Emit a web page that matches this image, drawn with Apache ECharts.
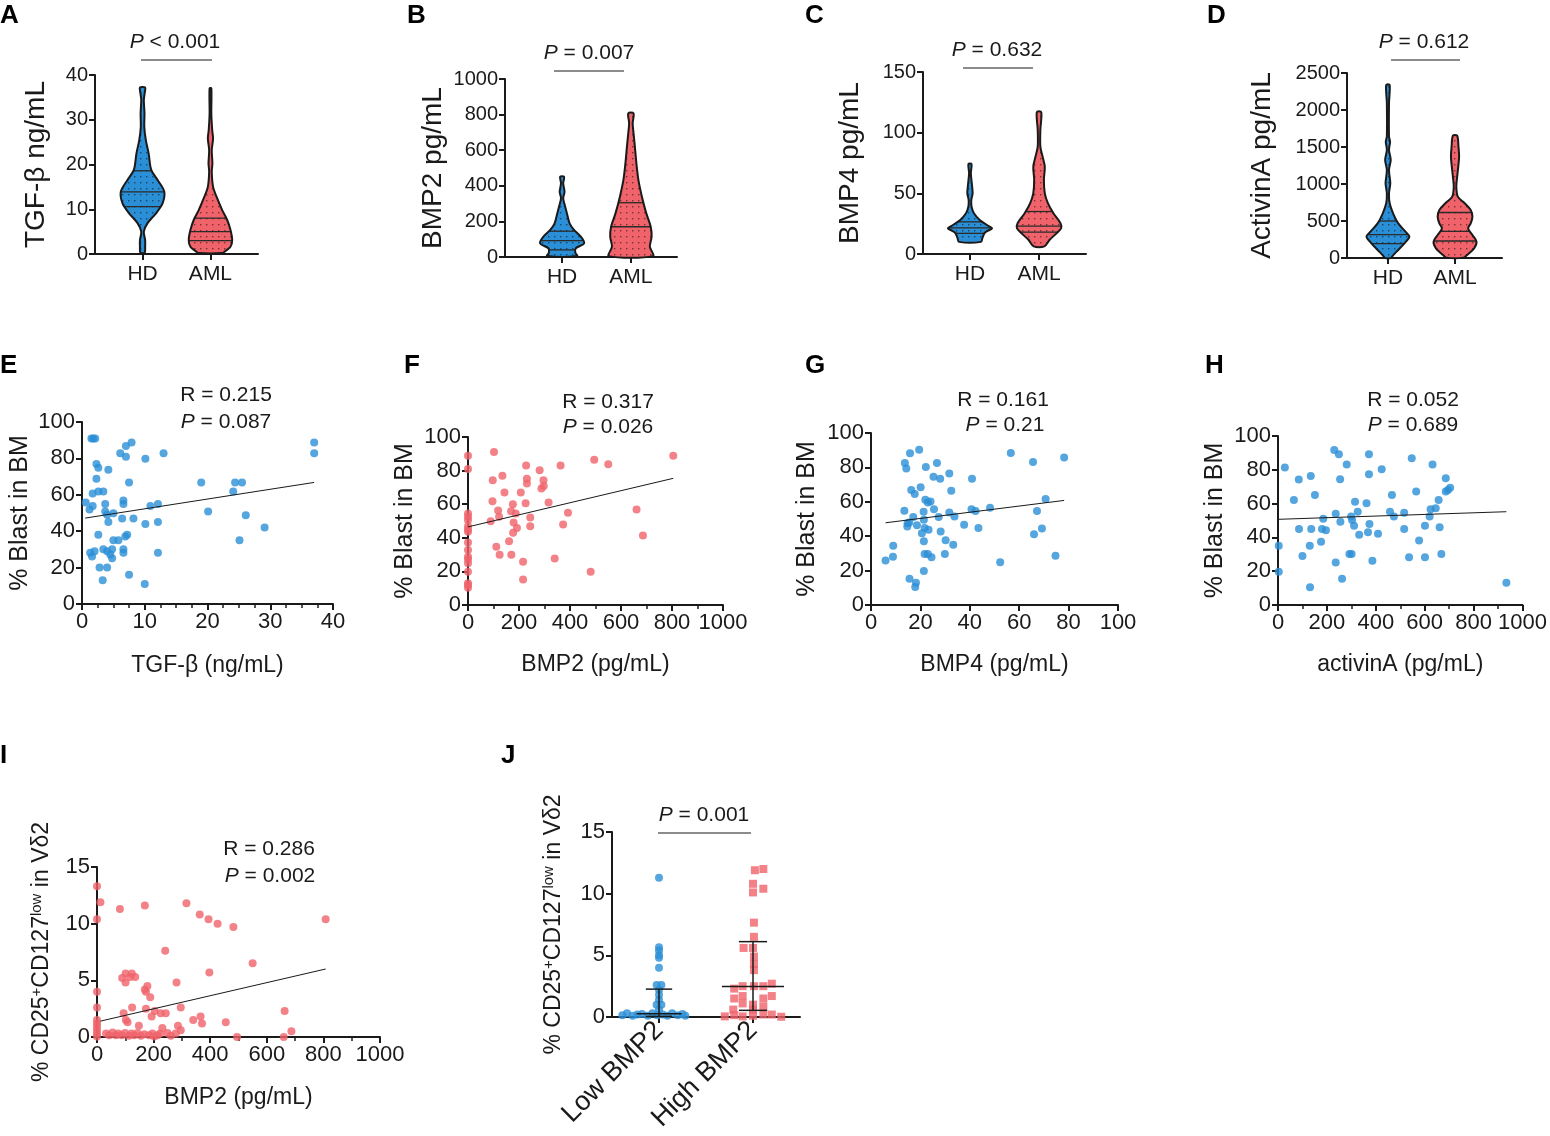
<!DOCTYPE html>
<html lang="en">
<head>
<meta charset="UTF-8">
<title>TGF-β family cytokines in AML</title>
<script src="https://cdn.jsdelivr.net/npm/echarts@6/dist/echarts.min.js"></script>
<style>body { margin: 0; background: #fff; }</style>
</head>
<body>
<div id="main" style="width:1550px;height:1136px;"></div>
<script>
// ---- data ----
var violinCats = ['HD', 'AML'];
var jCats = ['Low BMP2', 'High BMP2'];

// violin outlines, top to bottom: [value, relative half width]
var tgfHD = [[37.2,0.12],[36.0,0.1],[34.4,0.06],[31.4,0.09],[28.4,0.08],[25.5,0.15],[22.5,0.28],[18.8,0.4],[16.5,0.7],[13.9,1.0],[11.3,0.92],[9.1,0.62],[6.9,0.23],[5.0,0.06],[3.1,0.12],[1.6,0.12],[0.3,0.1]];
var tgfAML = [[37,0.04],[31.4,0.04],[27.7,0.08],[25.8,0.12],[23.2,0.06],[20.2,0.09],[18.4,0.06],[15,0.12],[12.8,0.28],[9.8,0.54],[7.6,0.77],[5.4,0.92],[3.1,1.0],[1.6,0.92],[0.7,0.7],[0.2,0.55]];
var bmp2HD = [[451,0.09],[414,0.05],[367,0.11],[330,0.05],[292,0.12],[245,0.22],[189,0.34],[152,0.54],[114,0.85],[77,1.0],[49,0.62],[25,0.6],[5,0.68]];
var bmp2AML = [[807,0.12],[751,0.08],[695,0.12],[620,0.18],[526,0.25],[433,0.34],[339,0.5],[245,0.7],[170,0.9],[114,0.94],[58,0.86],[5,1.0]];
var bmp4HD = [[74.2,0.07],[66.5,0.04],[56.9,0.09],[50,0.12],[44.5,0.06],[39.1,0.07],[33.6,0.18],[28.1,0.44],[23,0.85],[21.3,1.0],[19,0.8],[17.2,0.66],[13,0.56],[10,0.5]];
var bmp4AML = [[116.9,0.1],[102.3,0.06],[88.5,0.06],[80.3,0.16],[72.1,0.26],[61.1,0.22],[50.1,0.26],[41.9,0.4],[33.6,0.65],[25.4,0.97],[21.3,1.0],[17.2,0.8],[11.7,0.48],[6.3,0.24]];
var actHD = [[2338,0.08],[2090,0.05],[1640,0.05],[1572,0.1],[1459,0.05],[1324,0.13],[1189,0.05],[1009,0.11],[874,0.05],[739,0.08],[604,0.24],[468,0.48],[333,0.89],[288,1.0],[198,0.77],[86,0.4],[18,0.19],[0,0.15]];
var actAML = [[1653,0.1],[1505,0.16],[1369,0.19],[1234,0.15],[1099,0.1],[964,0.06],[829,0.13],[739,0.45],[649,0.73],[559,0.81],[468,0.73],[400,0.61],[311,0.81],[221,1.0],[131,0.89],[41,0.56],[5,0.4]];

// quartile / median lines inside the violins
var tgfHDq = [10.6, 13.9, 18.6], tgfAMLq = [3.0, 5.0, 8.0];
var bmp2HDq = [40, 92, 145], bmp2AMLq = [170, 305];
var bmp4HDq = [17, 21.5, 26.5], bmp4AMLq = [18, 23, 35];
var actHDq = [195, 315, 500], actAMLq = [230, 360, 615];

// scatter panels: [x, y]
var tgfBlast = [[1.5,91],[1.8,91],[2.1,91],[37,88.8],[37,82.8],[7.9,88.8],[7.0,86.8],[6.1,82.8],[13.0,82.8],[7.0,80.9],[10.1,79.8],[2.3,76.9],[2.6,74.9],[4.2,73.8],[2.3,68.8],[7.5,66.8],[19.0,66.8],[24.4,66.8],[25.5,66.8],[24.1,61.8],[2.6,61.8],[3.4,61.8],[1.7,60.7],[0.6,55.8],[6.6,56.9],[6.6,54.9],[3.7,54.9],[1.7,53.9],[1.2,51.9],[3.7,50.8],[12.1,54.9],[10.9,53.9],[20.1,50.8],[26.1,48.8],[5.0,49.9],[4.0,49.0],[4.2,45.0],[6.4,47.0],[8.2,47.0],[10.1,44.0],[12.1,45.0],[29.1,42.0],[2.6,38.0],[7.2,38.0],[6.9,37.1],[5.0,35.0],[5.8,35.0],[25.1,35.0],[6.6,30.1],[3.4,30.1],[4.0,29.0],[4.8,30.1],[1.3,28.1],[2.0,29.0],[1.6,26.1],[4.5,27.2],[4.8,25.1],[6.6,28.1],[12.1,28.1],[2.8,20.0],[4.0,20.0],[7.5,16.1],[3.3,13.0],[10.0,11.0]];
var bmp2Blast = [[0,88.9],[0,81.0],[0,54.5],[0,52.5],[0,50.5],[0,46.9],[0,45.0],[0,43.6],[0,37.2],[0,32.7],[0,28.7],[0,27.3],[0,24.8],[0,19.8],[0,12.9],[0,10.3],[0,11.9],[102,91.1],[97,74.3],[135,77.0],[96,61.8],[118,56.2],[122,52.5],[89,49.9],[143,66.9],[207,66.9],[228,83.0],[231,75.2],[231,72.3],[226,60.6],[176,60.0],[169,55.8],[187,54.5],[179,49.1],[192,45.9],[177,43.0],[161,38.0],[111,34.7],[124,29.9],[170,29.9],[216,25.7],[216,15.2],[244,52.1],[244,46.9],[281,80.2],[296,74.3],[297,70.9],[288,69.3],[316,61.0],[363,83.0],[392,54.9],[373,47.9],[340,27.7],[495,86.5],[550,83.8],[481,19.8],[661,56.8],[686,41.4],[805,88.9]];
var bmp4Blast = [[5.9,25.8],[8.9,28.0],[9.0,34.4],[13.5,54.8],[13.7,82.5],[14.3,79.4],[15.8,88.2],[19.5,90.3],[22.2,80.2],[26.7,82.5],[16.3,66.8],[17.7,64.5],[20.1,68.5],[25.3,74.6],[28.0,73.4],[31.7,76.5],[32.5,66.4],[40.9,73.4],[56.6,88.3],[65.6,83.1],[78.2,85.8],[24.1,60.2],[23.0,59.6],[22.0,61.2],[25.5,55.7],[27.4,51.1],[21.3,54.2],[17.1,51.1],[14.8,47.6],[14.7,45.6],[15.5,48.0],[18.6,46.4],[21.4,49.5],[21.7,44.7],[23.3,43.7],[20.6,41.7],[28.2,42.7],[31.7,53.8],[33.8,51.5],[37.7,46.6],[40.7,55.7],[42.3,54.6],[48.2,56.5],[43.5,44.7],[30.2,37.7],[33.3,35.0],[21.4,37.1],[21.7,29.7],[23.0,29.7],[24.5,27.8],[29.9,29.7],[21.4,19.8],[15.6,15.3],[18.2,13.0],[17.9,10.5],[52.3,24.9],[66.0,41.2],[67.2,54.6],[69.2,44.5],[70.7,61.6],[74.7,28.7]];
var actBlast = [[3,35.1],[3,19.7],[28,81.3],[65,62.1],[85,74.2],[86,45.0],[100,29.0],[134,76.3],[130,35.1],[136,45.0],[131,10.5],[151,65.1],[176,37.5],[180,45.0],[185,51.1],[196,44.2],[230,91.7],[249,89.2],[281,83.2],[236,54.0],[255,49.3],[254,74.4],[236,25.2],[262,15.6],[299,52.3],[303,50.3],[311,46.9],[315,61.1],[326,55.2],[332,41.6],[292,30.2],[301,30.2],[362,60.2],[372,89.2],[372,77.3],[374,47.9],[368,43.0],[386,26.2],[424,80.3],[409,42.2],[466,65.1],[458,55.2],[474,52.3],[516,54.6],[516,45.0],[536,28.2],[547,86.8],[565,67.1],[577,38.1],[601,46.9],[601,28.2],[620,52.3],[624,56.6],[632,83.2],[645,57.2],[657,62.1],[661,46.0],[668,30.2],[686,75.0],[686,67.1],[695,68.0],[704,69.4],[934,13.2]];
var bmp2Treg = [[0,13.3],[0,10.4],[0,4.0],[0,2.6],[0,1.5],[0,1.2],[0,0.9],[0,0.6],[0,0.3],[0,0.05],[12,11.9],[81,11.3],[169,11.6],[316,11.8],[363,10.8],[394,10.4],[426,10.0],[482,9.7],[808,10.4],[241,7.6],[550,6.5],[397,5.7],[281,4.8],[89,5.2],[101,5.6],[117,5.3],[123,5.6],[135,5.3],[101,4.8],[169,4.2],[178,4.5],[188,3.5],[173,4.0],[663,2.3],[296,2.6],[124,2.6],[94,2.1],[173,2.5],[204,2.3],[225,2.1],[243,2.1],[193,1.8],[102,1.5],[108,1.3],[340,1.5],[366,1.8],[371,1.2],[455,1.3],[148,1.0],[286,1.0],[231,0.8],[296,0.6],[687,0.5],[495,0.0],[660,0.0],[32,0.3],[43,0.15],[55,0.4],[67,0.15],[75,0.3],[87,0.15],[99,0.35],[113,0.1],[122,0.3],[131,0.15],[143,0.35],[155,0.1],[167,0.25],[184,0.15],[196,0.3],[214,0.15],[223,0.3],[249,0.35],[261,0.1],[278,0.3],[202,0.05]];

// linear fit end points
var fitE = [[0.5,47.2],[37,66.8]];
var fitF = [[0,46.5],[805,75.4]];
var fitG = [[5.9,47.8],[78.2,60.8]];
var fitH = [[0,50.7],[934,55.2]];
var fitI = [[12,1.4],[808,6.0]];

// panel J: [offset from group centre, value]
var lowBmp2 = [[0,11.3],[0,5.66],[0,5.4],[0,5.0],[0,4.8],[0,4.0],[-0.025,2.6],[0.025,2.6],[0,2.2],[0,1.8],[0,1.4],[-0.025,1.0],[0.025,1.0],[0,0.6],[-0.39,0.15],[-0.34,0.3],[-0.28,0.1],[-0.23,0.2],[-0.18,0.25],[-0.12,0.1],[-0.07,0.3],[-0.02,0.15],[0.04,0.2],[0.09,0.1],[0.14,0.3],[0.2,0.15],[0.25,0.25],[0.28,0.1]];
var highBmp2 = [[0.02,11.9],[0.11,12.0],[0,10.8],[0.11,10.4],[0,10.1],[0.01,7.65],[0.01,6.5],[-0.1,5.6],[0,5.6],[0.01,4.9],[0.01,4.3],[0.01,3.8],[-0.11,2.5],[0.01,2.5],[0.11,2.5],[0.2,2.7],[-0.2,2.3],[-0.2,1.5],[-0.11,1.7],[0.11,1.5],[0.2,1.7],[-0.11,1.1],[0,1.0],[-0.21,0.6],[0,0.6],[0.11,0.85],[-0.3,0.05],[-0.2,0.15],[-0.11,0.05],[0,0.1],[0.11,0.2],[0.2,0.2],[0.3,0.02]];
// [lower, median, upper]
var lowStats = [0.05, 0.27, 2.26];
var highStats = [0.54, 2.48, 6.11];

// ---- styling ----
var FONT = "'Liberation Sans', Arial, sans-serif";
var INK = '#1a1a1a';
var BLUE = '#2a8fd6';
var RED = '#f0636a';
var HALF = 0.32; // widest violin half width, in x units

function dotPattern(color) {
    var c = document.createElement('canvas');
    c.width = 6; c.height = 6;
    var g = c.getContext('2d');
    g.fillStyle = color;
    g.fillRect(0, 0, 6, 6);
    g.fillStyle = 'rgba(0,0,0,0.5)';
    g.fillRect(2, 2, 1.4, 1.4);
    return {image: c, repeat: 'repeat'};
}
var bluePat = dotPattern(BLUE);
var redPat = dotPattern(RED);

function widthAt(prof, v) {
    for (var k = 0; k < prof.length - 1; k++) {
        var a = prof[k], b = prof[k + 1];
        if (v <= a[0] && v >= b[0]) {
            var t = (a[0] - v) / (a[0] - b[0]);
            return a[1] + t * (b[1] - a[1]);
        }
    }
    return prof[prof.length - 1][1];
}

function violinRender(profiles, quarts) {
    var fills = [bluePat, redPat];
    return function (params, api) {
        var i = params.dataIndex;
        var cx = api.value(0);
        var prof = profiles[i];
        var left = [], right = [];
        prof.forEach(function (p) {
            left.push(api.coord([cx - p[1] * HALF, p[0]]));
            right.push(api.coord([cx + p[1] * HALF, p[0]]));
        });
        var pts = left.concat(right.reverse());
        var kids = [{type: 'polygon', shape: {points: pts, smooth: 0.3}, style: {fill: fills[i]}}];
        quarts[i].forEach(function (q) {
            var w = widthAt(prof, q) * HALF;
            var a = api.coord([cx - w, q]), b = api.coord([cx + w, q]);
            kids.push({type: 'line', shape: {x1: a[0], y1: a[1], x2: b[0], y2: b[1]},
                style: {stroke: '#2a2a2a', lineWidth: 1.3}});
        });
        kids.push({type: 'polygon', shape: {points: pts, smooth: 0.3},
            style: {fill: 'none', stroke: INK, lineWidth: 2}});
        return {type: 'group', children: kids};
    };
}

function errRender(stats, medHalf, capHalf) {
    return function (params, api) {
        var i = params.dataIndex;
        var cx = api.value(0), s = stats[i];
        function seg(x1, y1, x2, y2) {
            var a = api.coord([x1, y1]), b = api.coord([x2, y2]);
            return {type: 'line', shape: {x1: a[0], y1: a[1], x2: b[0], y2: b[1]},
                style: {stroke: INK, lineWidth: 1.5}};
        }
        return {type: 'group', children: [
            seg(cx, s[0], cx, s[2]),
            seg(cx - medHalf[i], s[1], cx + medHalf[i], s[1]),
            seg(cx - capHalf[i], s[0], cx + capHalf[i], s[0]),
            seg(cx - capHalf[i], s[2], cx + capHalf[i], s[2])
        ]};
    };
}

function axis(extra) {
    var a = {
        type: 'value', nameLocation: 'middle',
        axisLine: {show: true, onZero: false, lineStyle: {color: INK, width: 2}},
        axisTick: {show: true, length: 6, lineStyle: {color: INK, width: 2}},
        axisLabel: {color: INK, fontSize: 22, margin: 7, fontFamily: FONT,
            formatter: function (v) { return String(v); }},
        splitLine: {show: false},
        nameTextStyle: {color: INK, fontSize: 23, fontFamily: FONT}
    };
    for (var k in extra) {
        if (a[k] && typeof a[k] === 'object' && !Array.isArray(a[k])) a[k] = Object.assign({}, a[k], extra[k]);
        else a[k] = extra[k];
    }
    return a;
}

function catX(g, min, max, labels, more) {
    var o = {gridIndex: g, min: min, max: max,
        axisTick: {customValues: [1, 2]},
        axisLabel: {customValues: [1, 2], margin: 10, fontSize: 21,
            formatter: function (v) { return labels[Math.round(v) - 1]; }}};
    for (var k in more) o[k] = Object.assign(o[k] || {}, more[k]);
    return axis(o);
}

function minor(n) {
    return {show: true, splitNumber: n, length: 4, lineStyle: {color: INK, width: 1.5}};
}
var supName = '% CD25{sup|+}CD127{sup|low} in Vδ2';
var supRich = {sup: {fontSize: 15, verticalAlign: 'top', lineHeight: 26, fontFamily: FONT, color: INK}};
var violinName = {fontSize: 28};
var violinTick = {fontSize: 20};
var blastName = {fontSize: 25};

var grids = [
    {left: 95, top: 75, width: 163, height: 179},
    {left: 505, top: 79, width: 172, height: 178},
    {left: 923, top: 72, width: 163, height: 182},
    {left: 1347, top: 73, width: 155, height: 185},
    {left: 82, top: 422, width: 251, height: 182},
    {left: 468, top: 437, width: 255, height: 168},
    {left: 871, top: 433, width: 247, height: 172},
    {left: 1278, top: 436, width: 249, height: 169},
    {left: 97, top: 867, width: 283, height: 170},
    {left: 612, top: 832, width: 188, height: 185}
];

var xAxes = [
    catX(0, 0.3, 2.7, violinCats),
    catX(1, 0.17, 2.67, violinCats),
    catX(2, 0.32, 2.68, violinCats),
    catX(3, 0.39, 2.7, violinCats),
    axis({gridIndex: 4, min: 0, max: 40, interval: 10, minorTick: minor(4), name: 'TGF-β (ng/mL)', nameGap: 50}),
    axis({gridIndex: 5, min: 0, max: 1000, interval: 200, minorTick: minor(2), name: 'BMP2 (pg/mL)', nameGap: 48}),
    axis({gridIndex: 6, min: 0, max: 100, interval: 20, name: 'BMP4 (pg/mL)', nameGap: 48}),
    axis({gridIndex: 7, min: 0, max: 1000, interval: 200, minorTick: minor(2), name: 'activinA (pg/mL)', nameGap: 48}),
    axis({gridIndex: 8, min: 0, max: 1000, interval: 200, minorTick: minor(2), name: 'BMP2 (pg/mL)', nameGap: 49}),
    catX(9, 0.5, 2.5, jCats, {axisLabel: {rotate: 45, fontSize: 27, margin: 9}})
];

var yAxes = [
    axis({gridIndex: 0, min: 0, max: 40, interval: 10, name: 'TGF-β ng/mL', nameGap: 45, nameTextStyle: violinName, axisLabel: violinTick}),
    axis({gridIndex: 1, min: 0, max: 1000, interval: 200, name: 'BMP2 pg/mL', nameGap: 58, nameTextStyle: violinName, axisLabel: violinTick}),
    axis({gridIndex: 2, min: 0, max: 150, interval: 50, name: 'BMP4 pg/mL', nameGap: 59, nameTextStyle: violinName, axisLabel: violinTick}),
    axis({gridIndex: 3, min: 0, max: 2500, interval: 500, name: 'ActivinA pg/mL', nameGap: 71, nameTextStyle: violinName, axisLabel: violinTick}),
    axis({gridIndex: 4, min: 0, max: 100, interval: 20, name: '% Blast in BM', nameGap: 49, nameTextStyle: blastName}),
    axis({gridIndex: 5, min: 0, max: 100, interval: 20, name: '% Blast in BM', nameGap: 50, nameTextStyle: blastName}),
    axis({gridIndex: 6, min: 0, max: 100, interval: 20, name: '% Blast in BM', nameGap: 51, nameTextStyle: blastName}),
    axis({gridIndex: 7, min: 0, max: 100, interval: 20, name: '% Blast in BM', nameGap: 50, nameTextStyle: blastName}),
    axis({gridIndex: 8, min: 0, max: 15, interval: 5, name: supName, nameGap: 42, nameTextStyle: {rich: supRich, fontSize: 23}}),
    axis({gridIndex: 9, min: 0, max: 15, interval: 5, name: supName, nameGap: 45, nameTextStyle: {rich: supRich, fontSize: 23}})
];

function violinSeries(g, profiles, quarts) {
    return {type: 'custom', xAxisIndex: g, yAxisIndex: g, clip: false,
        data: [[1, 0], [2, 0]], renderItem: violinRender(profiles, quarts)};
}
function dots(g, data, color, symbol) {
    return {type: 'scatter', xAxisIndex: g, yAxisIndex: g, data: data, symbol: symbol || 'circle',
        symbolSize: 8, itemStyle: {color: color}, clip: false};
}
function fit(g, data) {
    return {type: 'line', xAxisIndex: g, yAxisIndex: g, data: data, symbol: 'none',
        lineStyle: {color: INK, width: 1}, z: 3};
}

var series = [
    violinSeries(0, [tgfHD, tgfAML], [tgfHDq, tgfAMLq]),
    violinSeries(1, [bmp2HD, bmp2AML], [bmp2HDq, bmp2AMLq]),
    violinSeries(2, [bmp4HD, bmp4AML], [bmp4HDq, bmp4AMLq]),
    violinSeries(3, [actHD, actAML], [actHDq, actAMLq]),
    dots(4, tgfBlast, BLUE), fit(4, fitE),
    dots(5, bmp2Blast, RED), fit(5, fitF),
    dots(6, bmp4Blast, BLUE), fit(6, fitG),
    dots(7, actBlast, BLUE), fit(7, fitH),
    dots(8, bmp2Treg, RED), fit(8, fitI),
    dots(9, lowBmp2.map(function (p) { return [1 + p[0], p[1]]; }), BLUE),
    dots(9, highBmp2.map(function (p) { return [2 + p[0], p[1]]; }), RED, 'rect'),
    {type: 'custom', xAxisIndex: 9, yAxisIndex: 9, clip: false, z: 4,
        data: [[1, 0], [2, 0]], renderItem: errRender([lowStats, highStats], [0.24, 0.33], [0.14, 0.15])}
];

// ---- annotations ----
function label(ch, x, y) {
    return {type: 'text', x: x, y: y, style: {text: ch, fontSize: 26, fontWeight: 'bold',
        fontFamily: FONT, fill: '#000', align: 'left', verticalAlign: 'top', textAlign: 'left', textVerticalAlign: 'top'}};
}
function stat(txt, x, y) {
    return {type: 'text', x: x, y: y, style: {text: txt, fontSize: 21, fontFamily: FONT, fill: INK,
        align: 'center', verticalAlign: 'middle', textAlign: 'center', textVerticalAlign: 'middle',
        rich: {i: {fontStyle: 'italic', fontSize: 21, fontFamily: FONT, fill: INK}}}};
}
function bracket(x1, x2, y) {
    return {type: 'line', shape: {x1: x1, y1: y, x2: x2, y2: y}, style: {stroke: INK, lineWidth: 1.2}};
}

var graphics = [
    label('A', 0, 3), label('B', 407, 3), label('C', 805, 3), label('D', 1207, 3),
    label('E', 0, 353), label('F', 404, 353), label('G', 805, 353), label('H', 1205, 353),
    label('I', 0, 743), label('J', 501, 743),
    stat('{i|P} < 0.001', 175, 42), bracket(141, 212, 60),
    stat('{i|P} = 0.007', 589, 53), bracket(554, 624, 71),
    stat('{i|P} = 0.632', 997, 50), bracket(963, 1033, 68),
    stat('{i|P} = 0.612', 1424, 42), bracket(1391, 1460, 60),
    stat('R = 0.215', 226, 395), stat('{i|P} = 0.087', 226, 422),
    stat('R = 0.317', 608, 402), stat('{i|P} = 0.026', 608, 427),
    stat('R = 0.161', 1003, 400), stat('{i|P} = 0.21', 1005, 425),
    stat('R = 0.052', 1413, 400), stat('{i|P} = 0.689', 1413, 425),
    stat('R = 0.286', 269, 849), stat('{i|P} = 0.002', 270, 876),
    stat('{i|P} = 0.001', 704, 815), bracket(658, 751, 833)
];

var chart = echarts.init(document.getElementById('main'));
chart.setOption({
    animation: false,
    backgroundColor: '#fff',
    textStyle: {fontFamily: FONT},
    grid: grids,
    xAxis: xAxes,
    yAxis: yAxes,
    series: series,
    graphic: graphics
});
</script>
</body>
</html>
